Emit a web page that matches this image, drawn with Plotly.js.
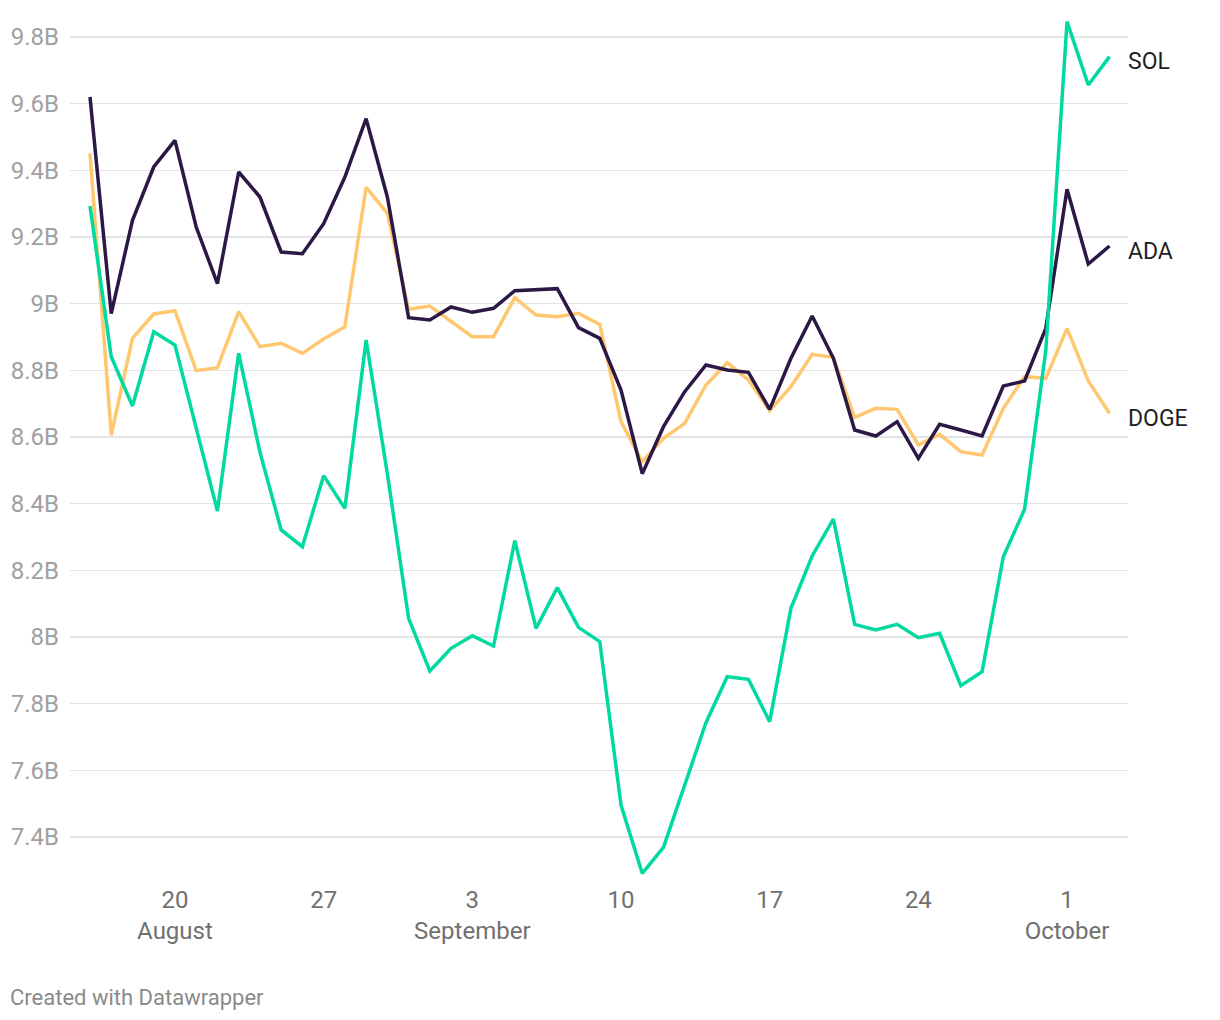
<!DOCTYPE html>
<html>
<head>
<meta charset="utf-8">
<script src="https://cdn.plot.ly/plotly-3.0.1.min.js"></script>
<style>
  html, body { margin: 0; padding: 0; background: #ffffff; }
  #chart { width: 1220px; height: 1020px; }
</style>
</head>
<body>
<div id="chart"></div>
<script>
const dates = [
  '2023-08-16','2023-08-17','2023-08-18','2023-08-19','2023-08-20','2023-08-21','2023-08-22','2023-08-23',
  '2023-08-24','2023-08-25','2023-08-26','2023-08-27','2023-08-28','2023-08-29','2023-08-30','2023-08-31',
  '2023-09-01','2023-09-02','2023-09-03','2023-09-04','2023-09-05','2023-09-06','2023-09-07','2023-09-08',
  '2023-09-09','2023-09-10','2023-09-11','2023-09-12','2023-09-13','2023-09-14','2023-09-15','2023-09-16',
  '2023-09-17','2023-09-18','2023-09-19','2023-09-20','2023-09-21','2023-09-22','2023-09-23','2023-09-24',
  '2023-09-25','2023-09-26','2023-09-27','2023-09-28','2023-09-29','2023-09-30','2023-10-01','2023-10-02',
  '2023-10-03'
];

// values in billions
const ada = [
  9.62, 8.97, 9.25, 9.41, 9.49, 9.23, 9.06, 9.395, 9.32, 9.155,
  9.15, 9.24, 9.38, 9.555, 9.32, 8.958, 8.951, 8.99, 8.974, 8.986,
  9.039, 9.042, 9.045, 8.928, 8.896, 8.741, 8.49, 8.631, 8.736, 8.816,
  8.801, 8.794, 8.683, 8.836, 8.963, 8.836, 8.621, 8.603, 8.646, 8.536,
  8.638, 8.621, 8.603, 8.753, 8.768, 8.926, 9.343, 9.119, 9.173
];
const doge = [
  9.451, 8.606, 8.896, 8.969, 8.979, 8.799, 8.808, 8.976, 8.871, 8.881,
  8.851, 8.894, 8.931, 9.349, 9.271, 8.983, 8.993, 8.946, 8.901, 8.901,
  9.018, 8.966, 8.961, 8.971, 8.938, 8.646, 8.526, 8.596, 8.641, 8.756,
  8.823, 8.771, 8.679, 8.751, 8.848, 8.839, 8.659, 8.686, 8.683, 8.576,
  8.608, 8.556, 8.546, 8.686, 8.781, 8.776, 8.926, 8.768, 8.671
];
const sol = [
  9.293, 8.841, 8.693, 8.916, 8.876, 8.63, 8.378, 8.851, 8.555, 8.321,
  8.271, 8.484, 8.386, 8.891, 8.49, 8.056, 7.898, 7.966, 8.004, 7.973,
  8.289, 8.026, 8.148, 8.029, 7.986, 7.496, 7.291, 7.369, 7.56, 7.743,
  7.881, 7.873, 7.746, 8.086, 8.243, 8.354, 8.038, 8.021, 8.038, 7.998,
  8.011, 7.854, 7.896, 8.241, 8.383, 8.86, 9.846, 9.656, 9.741
];

const seriesNames = ['DOGE', 'ADA', 'SOL'];
const seriesColors = ['#ffc870', '#2c1845', '#00d9a0'];
const seriesValues = [doge, ada, sol];

const yTickVals = [7.4, 7.6, 7.8, 8.0, 8.2, 8.4, 8.6, 8.8, 9.0, 9.2, 9.4, 9.6, 9.8];
const yTickText = ['7.4B','7.6B','7.8B','8B','8.2B','8.4B','8.6B','8.8B','9B','9.2B','9.4B','9.6B','9.8B'];

const xTickVals = ['2023-08-20','2023-08-27','2023-09-03','2023-09-10','2023-09-17','2023-09-24','2023-10-01'];
const xTickText = ['20<br>August','27','3<br>September','10','17','24','1<br>October'];

const traces = seriesNames.map((name, k) => ({
  type: 'scatter',
  mode: 'lines',
  name: name,
  x: dates,
  y: seriesValues[k],
  line: { color: seriesColors[k], width: 3.5, shape: 'linear' },
  hoverinfo: 'x+y+name'
}));

const annotations = seriesNames.map((name, k) => ({
  xref: 'paper', yref: 'y',
  x: 1, y: seriesValues[k][seriesValues[k].length - 1],
  xanchor: 'left', yanchor: 'middle',
  xshift: -2,
  yshift: -5,
  text: name,
  showarrow: false,
  font: { family: 'Roboto, sans-serif', size: 23, color: '#1e1e1e' }
}));

annotations.push({
  xref: 'paper', yref: 'paper',
  x: -0.0586, y: -0.1345,
  xanchor: 'left', yanchor: 'middle',
  text: 'Created with Datawrapper',
  showarrow: false,
  font: { family: 'Roboto, sans-serif', size: 22, color: '#8a8a8a' }
});

const layout = {
  width: 1220,
  height: 1020,
  margin: { l: 70, r: 92, t: 10, b: 140 },
  paper_bgcolor: '#ffffff',
  plot_bgcolor: '#ffffff',
  showlegend: false,
  font: { family: 'Roboto, sans-serif' },
  xaxis: {
    type: 'date',
    range: ['2023-08-15 01:24', '2023-10-03 20:53'],
    tickmode: 'array',
    tickvals: xTickVals,
    ticktext: xTickText,
    showgrid: false,
    zeroline: false,
    showline: false,
    ticks: '',
    ticklabelstandoff: 3,
    tickfont: { family: 'Roboto, sans-serif', size: 24, color: '#707070' }
  },
  yaxis: {
    range: [7.271, 9.881],
    tickmode: 'array',
    tickvals: yTickVals,
    ticktext: yTickText,
    showgrid: true,
    gridcolor: '#e3e3e3',
    gridwidth: 1.5,
    zeroline: false,
    showline: false,
    ticks: '',
    ticklabelstandoff: 10,
    tickfont: { family: 'Roboto, sans-serif', size: 24, color: '#a0a0a0' }
  },
  annotations: annotations
};

Plotly.newPlot('chart', traces, layout, { displayModeBar: false, staticPlot: true });
</script>
</body>
</html>
